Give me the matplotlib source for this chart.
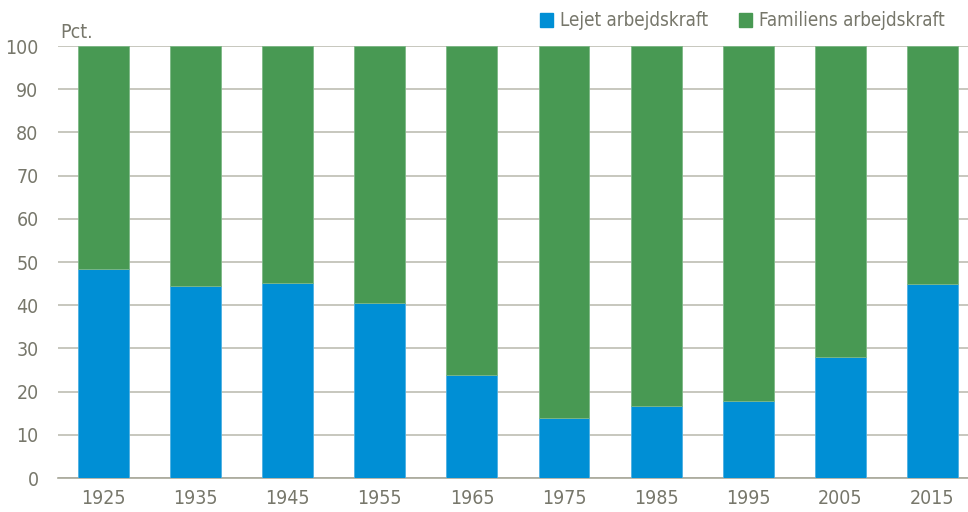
import matplotlib
matplotlib.use("Agg")
from matplotlib import pyplot as plt
from matplotlib.patches import Patch
import numpy as np

years = ["1925", "1935", "1945", "1955", "1965", "1975", "1985", "1995", "2005", "2015"]
lejet = [48.3, 44.5, 45.1, 40.4, 23.8, 14.0, 16.6, 17.8, 27.9, 44.9]
familiens = [100 - v for v in lejet]

BLUE = "#008FD5"
GREEN = "#489953"
TEXT = "#77776B"
GRID = "#BDBDB3"

plt.rcParams["font.family"] = ["DejaVu Sans"]
plt.rcParams["font.stretch"] = "condensed"

fig = plt.figure(figsize=(9.68, 5.12), dpi=100)
ax = fig.add_axes([58 / 968, 34 / 512, 910 / 968, 432 / 512])

x = np.arange(len(years))
ax.bar(x, lejet, width=0.553, color=BLUE, edgecolor="#4DB0E3", linewidth=0.6, zorder=3)
ax.bar(x, familiens, bottom=lejet, width=0.553, color=GREEN, edgecolor="#7DB886",
       linewidth=0.6, zorder=3)

ax.set_xlim(-0.494, 9.387)
ax.set_ylim(0, 100)
ax.set_yticks(range(0, 101, 10))
ax.set_xticks(x)
ax.set_xticklabels(years)
ax.yaxis.grid(True, color=GRID, linewidth=1.2, zorder=0)
ax.set_axisbelow(True)
for side in ["top", "right", "left"]:
    ax.spines[side].set_visible(False)
ax.spines["bottom"].set_color("#A8A89A")
ax.spines["bottom"].set_linewidth(1.2)
ax.tick_params(axis="both", length=0, labelsize=14, labelcolor=TEXT)
ax.tick_params(axis="y", pad=14)
ax.tick_params(axis="x", pad=8)

fig.text(60 / 968, 1 - 33 / 512, "Pct.", fontsize=14, color=TEXT, va="center", ha="left")

handles = [Patch(color=BLUE, label="Lejet arbejdskraft"),
           Patch(color=GREEN, label="Familiens arbejdskraft")]
leg = fig.legend(handles=handles, loc="center right", bbox_to_anchor=(945 / 968, 1 - 21 / 512),
                 ncol=2, frameon=False, fontsize=13.5, handlelength=0.7, handleheight=0.7,
                 handletextpad=0.4, columnspacing=1.6, borderaxespad=0, borderpad=0)
for t in leg.get_texts():
    t.set_color(TEXT)

fig.savefig("out.png", dpi=100)
